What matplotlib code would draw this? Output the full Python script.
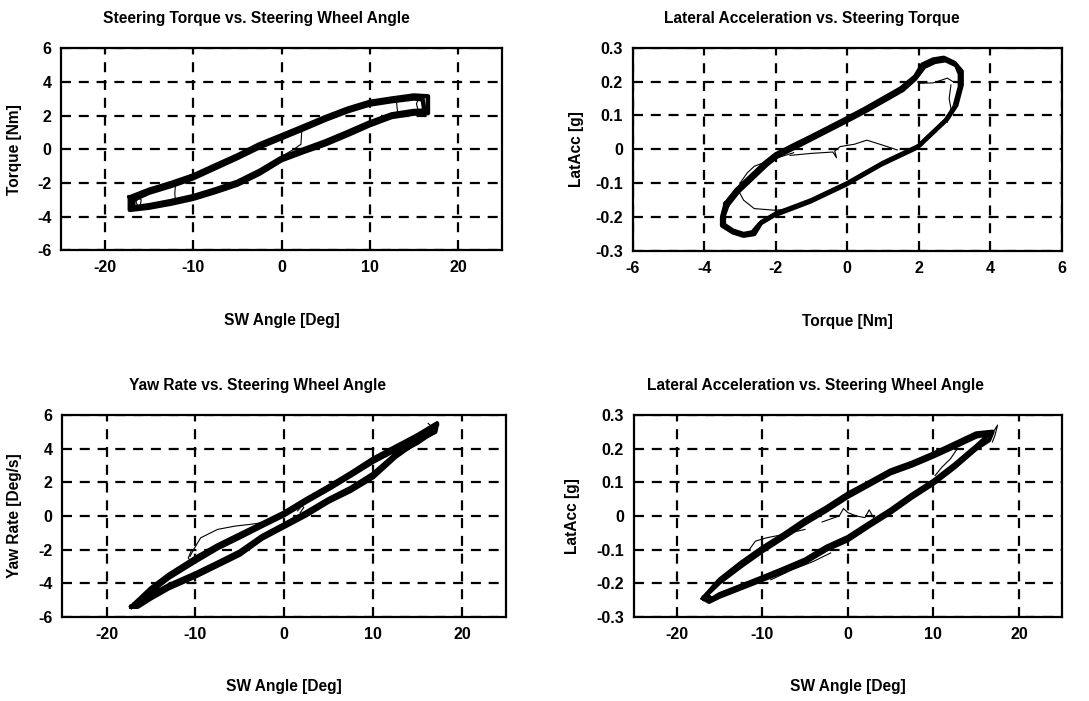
import numpy as np
import matplotlib
matplotlib.use("Agg")
from matplotlib import pyplot as plt

plt.rcParams['font.family'] = ['Liberation Sans', 'DejaVu Sans']
plt.rcParams['font.weight'] = 'bold'
plt.rcParams['axes.unicode_minus'] = False

# ---- Steering torque vs SW angle (top left) ----
tq_sw_x1 = [-17.2, -15, -12.5, -10, -7.5, -5, -2.5, 0, 2.5, 5, 7.5, 10, 12.5, 15, 16.6,
            16.6, 15, 12.5, 10, 7.5, 5, 2.5, 0, -2.5, -5, -7.5, -10, -12.5, -15, -17.2, -17.2]
tq_sw_y1 = [-2.85, -2.4, -2.0, -1.55, -0.95, -0.36, 0.3, 0.83, 1.37, 1.92, 2.42, 2.82, 3.02, 3.2, 3.15,
            2.15, 2.12, 1.92, 1.43, 0.85, 0.3, -0.16, -0.65, -1.45, -2.1, -2.54, -2.94, -3.23, -3.47, -3.6, -2.85]
tq_sw_x2 = [-16.8, -15, -12.5, -10, -7.5, -5, -2.5, 0, 2.5, 5, 7.5, 10, 12.5, 15, 16.0,
            16.2, 15, 12.5, 10, 7.5, 5, 2.5, 0, -2.5, -5, -7.5, -10, -12.5, -15, -16.8, -16.8]
tq_sw_y2 = [-3.0, -2.58, -2.18, -1.72, -1.12, -0.52, 0.12, 0.66, 1.2, 1.76, 2.26, 2.66, 2.86, 3.02, 2.97,
            2.3, 2.28, 2.08, 1.6, 1.03, 0.48, 0.0, -0.5, -1.28, -1.93, -2.38, -2.78, -3.07, -3.32, -3.45, -3.0]
tq_sw_sx = [[-12.0, -12.1, -12.0],
            [0.3, 1.5, 2.3, 2.2, 1.4, 0.4, -0.2],
            [13.0, 13.1, 13.2],
            [-16.2, -16.5, -16.3, -16.0, -15.9, -16.2],
            [15.6, 15.3, 15.5, 16.0]]
tq_sw_sy = [[-2.0, -2.6, -3.2],
            [0.9, 1.2, 1.1, 0.3, 0.0, -0.3, -0.5],
            [3.0, 2.5, 2.0],
            [-2.9, -3.1, -3.4, -3.3, -3.0, -2.9],
            [3.1, 2.7, 2.3, 2.2]]

# ---- Lateral acceleration vs torque (top right) ----
la_tq_x1 = [-3.4, -3.1, -2.7, -2.3, -2.0, -1.5, -1.0, -0.5, 0, 0.5, 1.0, 1.5, 1.9, 2.1, 2.4, 2.7, 3.0, 3.2,
            3.2, 3.05, 2.8, 2.4, 2.0, 1.5, 1.0, 0.5, 0, -0.5, -1.0, -1.5, -2.0, -2.4, -2.6, -2.9, -3.2,
            -3.5, -3.5, -3.4]
la_tq_y1 = [-0.16, -0.12, -0.08, -0.04, -0.015, 0.012, 0.038, 0.065, 0.092, 0.12, 0.15, 0.18, 0.215, 0.25,
            0.265, 0.27, 0.255, 0.23, 0.19, 0.13, 0.09, 0.05, 0.01, -0.015, -0.04, -0.07, -0.1, -0.125,
            -0.15, -0.17, -0.19, -0.215, -0.25, -0.255, -0.245, -0.225, -0.2, -0.16]
la_tq_x2 = [-3.35, -3.05, -2.65, -2.25, -1.95, -1.45, -0.95, -0.45, 0.05, 0.55, 1.05, 1.55, 1.9, 2.15,
            2.45, 2.75, 3.05, 3.15, 3.15, 3.0, 2.75, 2.35, 1.95, 1.45, 0.95, 0.45, -0.05, -0.55, -1.05,
            -1.55, -2.05, -2.45, -2.65, -2.9, -3.2, -3.45, -3.45, -3.35]
la_tq_y2 = [-0.165, -0.125, -0.085, -0.045, -0.02, 0.006, 0.033, 0.06, 0.087, 0.115, 0.145, 0.175, 0.208,
            0.243, 0.258, 0.263, 0.248, 0.222, 0.185, 0.125, 0.085, 0.045, 0.005, -0.02, -0.045, -0.075,
            -0.105, -0.13, -0.155, -0.175, -0.195, -0.22, -0.245, -0.25, -0.24, -0.222, -0.195, -0.165]
la_tq_sx = [[-3.0, -2.9, -2.6, -2.0, -1.4],
            [-1.5, -2.1, -2.6, -2.8, -3.0],
            [-1.6, -1.0, -0.4, -0.3, -0.35, -0.2, 0.2, 0.55, 1.0, 1.4],
            [2.0, 2.4, 2.8, 2.95],
            [2.9, 2.85, 2.9, 2.8]]
la_tq_sy = [[-0.13, -0.15, -0.175, -0.18, -0.172],
            [-0.01, -0.03, -0.05, -0.07, -0.1],
            [-0.018, -0.012, -0.008, -0.025, -0.005, 0.008, 0.015, 0.027, 0.012, -0.002],
            [0.195, 0.196, 0.21, 0.2],
            [0.19, 0.15, 0.12, 0.08]]

# ---- Yaw rate vs SW angle (bottom left) ----
yr_sw_x1 = [-17.2, -15, -13, -10, -7.5, -5, -2.5, 0, 2.5, 5, 7.5, 10, 12.5, 15, 17.2,
            17.0, 15, 12.5, 10, 7.5, 5, 2.5, 0, -2.5, -5, -7.5, -10, -13, -15, -16.5, -17.2]
yr_sw_y1 = [-5.4, -4.3, -3.5, -2.5, -1.75, -1.1, -0.45, 0.2, 1.0, 1.75, 2.55, 3.4, 4.1, 4.8, 5.5,
            5.0, 4.45, 3.5, 2.3, 1.5, 0.85, 0.05, -0.65, -1.35, -2.3, -2.95, -3.6, -4.3, -4.9, -5.4, -5.4]
yr_sw_x2 = [-16.8, -15, -13, -10, -7.5, -5, -2.5, 0, 2.5, 5, 7.5, 10, 12.5, 15, 16.6,
            16.5, 15, 12.5, 10, 7.5, 5, 2.5, 0, -2.5, -5, -7.5, -10, -13, -15, -16.2, -16.8]
yr_sw_y2 = [-5.25, -4.5, -3.68, -2.7, -1.92, -1.27, -0.6, 0.05, 0.85, 1.6, 2.4, 3.22, 3.92, 4.62, 5.28,
            4.9, 4.35, 3.65, 2.5, 1.67, 1.0, 0.22, -0.5, -1.2, -2.12, -2.78, -3.42, -4.12, -4.72, -5.25, -5.25]
yr_sw_sx = [[-10.6, -10.2, -9.4, -7.5, -5.5, -3.8, -2.5],
            [-10.4, -10.8, -10.5],
            [1.5, 2.0, 2.2, 1.8],
            [16.2, 16.8, 17.4, 17.2]]
yr_sw_sy = [[-2.4, -2.0, -1.3, -0.8, -0.6, -0.5, -0.4],
            [-2.0, -2.5, -2.7],
            [0.3, 0.6, 0.5, 0.2],
            [5.5, 5.2, 5.4, 5.6]]

# ---- Lateral acceleration vs SW angle (bottom right) ----
la_sw_x1 = [-16.9, -15, -12.5, -10, -7.5, -5, -2.5, 0, 2.5, 5, 7.5, 10, 12.5, 15, 16.9,
            16.5, 15, 12.5, 10, 7.5, 5, 2.5, 0, -2.5, -5, -7.5, -10, -12.5, -15, -16.2, -16.9]
la_sw_y1 = [-0.245, -0.19, -0.14, -0.095, -0.055, -0.012, 0.025, 0.066, 0.1, 0.135, 0.158, 0.185, 0.215,
            0.245, 0.25, 0.225, 0.2, 0.145, 0.096, 0.055, 0.01, -0.03, -0.072, -0.1, -0.138, -0.165,
            -0.19, -0.215, -0.24, -0.255, -0.245]
la_sw_x2 = [-16.5, -15, -12.5, -10, -7.5, -5, -2.5, 0, 2.5, 5, 7.5, 10, 12.5, 15, 16.3,
            16.0, 15, 12.5, 10, 7.5, 5, 2.5, 0, -2.5, -5, -7.5, -10, -12.5, -15, -15.9, -16.5]
la_sw_y2 = [-0.235, -0.198, -0.15, -0.105, -0.064, -0.022, 0.016, 0.057, 0.092, 0.127, 0.15, 0.177, 0.206,
            0.236, 0.243, 0.23, 0.207, 0.153, 0.104, 0.063, 0.018, -0.022, -0.063, -0.092, -0.13, -0.157,
            -0.183, -0.208, -0.233, -0.247, -0.235]
la_sw_sx = [[-9.0, -6.5, -4.0, -2.0],
            [-11.5, -10.8, -9.5, -7.5, -5.0],
            [-3.0, -1.0, -0.5, 0.0, 1.0, 2.0, 2.5, 3.0],
            [17.0, 17.5, 17.2, 16.9],
            [12.8, 12.0, 11.0, 10.2]]
la_sw_sy = [[-0.19, -0.16, -0.135, -0.11],
            [-0.1, -0.075, -0.065, -0.055, -0.04],
            [-0.018, 0.0, 0.022, 0.01, 0.0, -0.005, 0.018, -0.005],
            [0.25, 0.27, 0.24, 0.22],
            [0.2, 0.17, 0.145, 0.12]]

acc_ticks = [-0.3, -0.2, -0.1, 0, 0.1, 0.2, 0.3]
acc_labels = ["-0.3", "-0.2", "-0.1", "0", "0.1", "0.2", "0.3"]

panels = [
    dict(rect=[0.056, 0.643, 0.405, 0.288], title="Steering Torque vs. Steering Wheel Angle", tx=0.442,
         xlabel="SW Angle [Deg]", ylabel="Torque [Nm]", ylx=-0.088,
         xlim=(-25, 25), ylim=(-6, 6), xt=[-20, -10, 0, 10, 20], yt=[-6, -4, -2, 0, 2, 4, 6], ytl=None,
         c1=(tq_sw_x1, tq_sw_y1), c2=(tq_sw_x2, tq_sw_y2), s=(tq_sw_sx, tq_sw_sy)),
    dict(rect=[0.581, 0.642, 0.394, 0.290], title="Lateral Acceleration vs. Steering Torque", tx=0.417,
         xlabel="Torque [Nm]", ylabel="LatAcc [g]", ylx=-0.114,
         xlim=(-6, 6), ylim=(-0.3, 0.3), xt=[-6, -4, -2, 0, 2, 4, 6], yt=acc_ticks, ytl=acc_labels,
         c1=(la_tq_x1, la_tq_y1), c2=(la_tq_x2, la_tq_y2), s=(la_tq_sx, la_tq_sy)),
    dict(rect=[0.057, 0.120, 0.408, 0.288], title="Yaw Rate vs. Steering Wheel Angle", tx=0.439,
         xlabel="SW Angle [Deg]", ylabel="Yaw Rate [Deg/s]", ylx=-0.09,
         xlim=(-25, 25), ylim=(-6, 6), xt=[-20, -10, 0, 10, 20], yt=[-6, -4, -2, 0, 2, 4, 6], ytl=None,
         c1=(yr_sw_x1, yr_sw_y1), c2=(yr_sw_x2, yr_sw_y2), s=(yr_sw_sx, yr_sw_sy)),
    dict(rect=[0.582, 0.120, 0.393, 0.288], title="Lateral Acceleration vs. Steering Wheel Angle", tx=0.425,
         xlabel="SW Angle [Deg]", ylabel="LatAcc [g]", ylx=-0.126,
         xlim=(-25, 25), ylim=(-0.3, 0.3), xt=[-20, -10, 0, 10, 20], yt=acc_ticks, ytl=acc_labels,
         c1=(la_sw_x1, la_sw_y1), c2=(la_sw_x2, la_sw_y2), s=(la_sw_sx, la_sw_sy)),
]

fig = plt.figure(figsize=(10.89, 7.01), dpi=100)

for p in panels:
    ax = fig.add_axes(p["rect"])
    ax.plot(p["c1"][0], p["c1"][1], color="black", lw=3.2, solid_joinstyle="round")
    ax.plot(p["c2"][0], p["c2"][1], color="black", lw=3.2, solid_joinstyle="round")
    for sx, sy in zip(*p["s"]):
        ax.plot(sx, sy, color="black", lw=0.8)
    ax.set_xlim(p["xlim"])
    ax.set_ylim(p["ylim"])
    ax.set_xticks(p["xt"])
    ax.set_yticks(p["yt"])
    if p["ytl"] is not None:
        ax.set_yticklabels(p["ytl"])
    ax.grid(True, color="black", linestyle=(0, (4.5, 3.5)), linewidth=1.6)
    ax.tick_params(direction="in", length=4, width=1.2, labelsize=11.5, pad=7)
    for lab in ax.get_xticklabels() + ax.get_yticklabels():
        lab.set_fontweight("bold")
    for sp in ax.spines.values():
        sp.set_linewidth(1.6)
    ax.set_title(p["title"], fontsize=11.2, fontweight="bold", x=p["tx"], pad=18)
    ax.set_xlabel(p["xlabel"], fontsize=11.2, fontweight="bold")
    ax.xaxis.set_label_coords(0.5, -0.31)
    ax.set_ylabel(p["ylabel"], fontsize=11.2, fontweight="bold")
    ax.yaxis.set_label_coords(p["ylx"], 0.5)

fig.savefig("out.png", dpi=100)
